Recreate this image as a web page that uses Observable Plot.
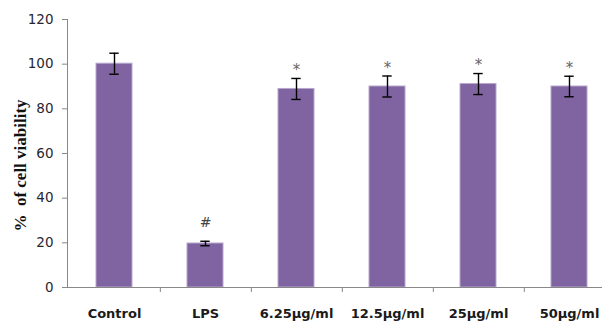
<!DOCTYPE html>
<html>
<head>
<meta charset="utf-8">
<script src="https://cdn.jsdelivr.net/npm/d3@7"></script>
<script src="https://cdn.jsdelivr.net/npm/@observablehq/plot@0.6"></script>
<style>
  html, body { margin: 0; padding: 0; background: #fff; }
</style>
</head>
<body>
<div id="chart"></div>
<script>
const categories = ["Control", "LPS", "6.25µg/ml", "12.5µg/ml", "25µg/ml", "50µg/ml"];
const means = [100.2, 19.7, 88.9, 90.0, 91.1, 90.0];
const sds = [4.7, 1.0, 4.7, 4.7, 4.7, 4.6];
const marks = ["", "#", "*", "*", "*", "*"];
const yTicks = [0, 20, 40, 60, 80, 100, 120];

const data = categories.map((c, i) => ({cat: c, mean: means[i], sd: sds[i], mark: marks[i]}));
const labelled = data.filter(d => d.mark !== "");

const W = 602, H = 322;
const chart = Plot.plot({
  width: W,
  height: H,
  marginLeft: 67,
  marginRight: 0,
  marginTop: 19,
  marginBottom: 35,
  style: {background: "#fff", overflow: "visible"},
  x: {type: "band", domain: categories, range: [67, 617], paddingInner: 0.6, paddingOuter: 0.3},
  y: {domain: [0, 120]},
  marks: [
    Plot.barY(data, {x: "cat", y: "mean", fill: "#8064A2", stroke: "#B6A6CC", strokeWidth: 1}),
    Plot.ruleX(data, {x: "cat", y1: d => d.mean - d.sd, y2: d => d.mean + d.sd, stroke: "#000", strokeWidth: 1.4}),
    Plot.tickY(data, {x: "cat", y: d => d.mean - d.sd, stroke: "#000", strokeWidth: 1.4, insetLeft: 13.3, insetRight: 13.3}),
    Plot.tickY(data, {x: "cat", y: d => d.mean + d.sd, stroke: "#000", strokeWidth: 1.4, insetLeft: 13.3, insetRight: 13.3}),
    Plot.text(labelled.filter(d => d.mark === "*"), {x: "cat", y: d => d.mean + d.sd, text: "mark", dy: -8, fill: "#666", fontSize: 15, fontFamily: "DejaVu Sans"}),
    Plot.text(labelled.filter(d => d.mark === "#"), {x: "cat", y: d => d.mean + d.sd, text: "mark", dy: -19, fill: "#444", fontSize: 14, fontFamily: "DejaVu Sans"}),
    Plot.ruleY([0], {stroke: "#888", strokeWidth: 1}),
    Plot.frame({anchor: "left", stroke: "#888", strokeWidth: 1}),
    Plot.axisY({ticks: yTicks, tickSize: 5, tickPadding: 9, stroke: "#888", fill: "#262633", fontSize: 13.5, fontFamily: "DejaVu Sans", label: null}),
    Plot.axisX({tickSize: 0, tickPadding: 21, fill: "#1a1a1a", fontSize: 13, fontWeight: "bold", fontFamily: "DejaVu Sans", label: null}),
    Plot.axisX({tickSize: 5, dx: 45.83, text: null, stroke: "#888", label: null}),
    Plot.text(["%  of cell viability"], {frameAnchor: "left", textAnchor: "middle", dx: -47, dy: 12, rotate: -90, fontSize: 17, fontWeight: "bold", fontFamily: "Liberation Serif", fill: "#111"})
  ]
});
document.getElementById("chart").appendChild(chart);
</script>
</body>
</html>
